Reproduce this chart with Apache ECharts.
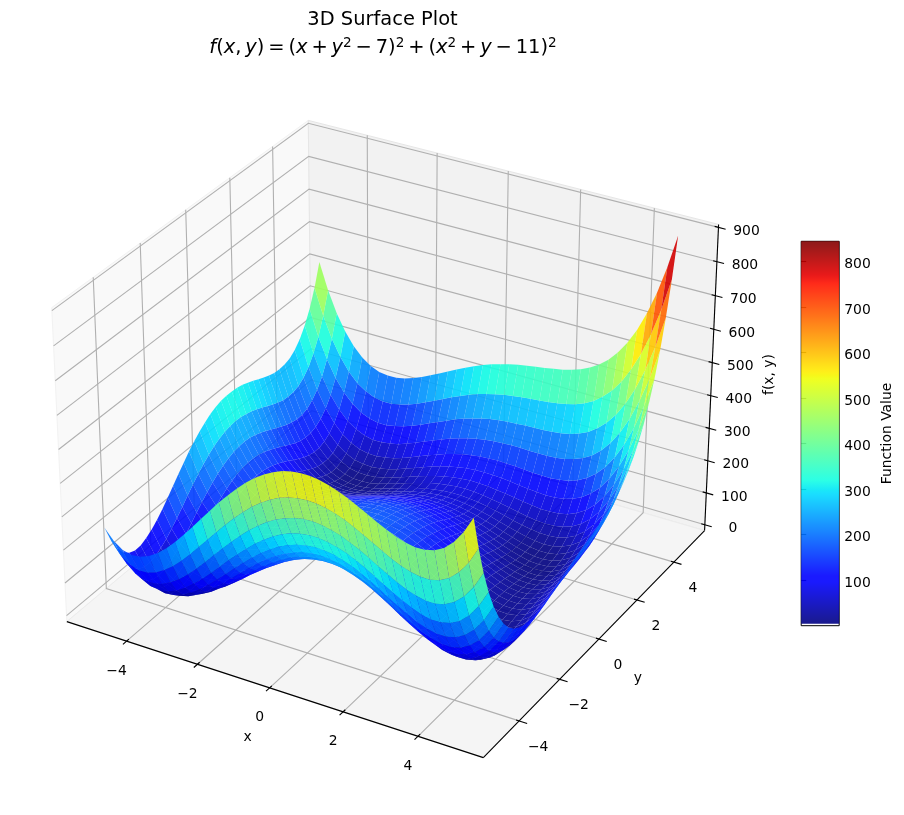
<!DOCTYPE html>
<html>
<head>
<meta charset="utf-8">
<style>html,body{margin:0;padding:0;background:#fff}#chart{width:904px;height:815px}</style>
<script src="https://cdn.jsdelivr.net/npm/echarts@6/dist/echarts.min.js"></script>
</head>
<body>
<div id="chart"></div>
<script>
// Sample positions of the surface table
const xValues = [-5,-4.75,-4.5,-4.25,-4,-3.75,-3.5,-3.25,-3,-2.75,-2.5,-2.25,-2,-1.75,-1.5,-1.25,-1,-0.75,-0.5,-0.25,0,0.25,0.5,0.75,1,1.25,1.5,1.75,2,2.25,2.5,2.75,3,3.25,3.5,3.75,4,4.25,4.5,4.75,5];
const yValues = [-5,-4.75,-4.5,-4.25,-4,-3.75,-3.5,-3.25,-3,-2.75,-2.5,-2.25,-2,-1.75,-1.5,-1.25,-1,-0.75,-0.5,-0.25,0,0.25,0.5,0.75,1,1.25,1.5,1.75,2,2.25,2.5,2.75,3,3.25,3.5,3.75,4,4.25,4.5,4.75,5];

// Surface height: one row per y value, one column per x value
const zRows = [
[250,219,200,193,196,207,224,247,274,304,335,368,400,432,461,489,514,536,554,569,580,587,590,590,586,579,569,558,544,530,515,502,490,481,476,477,484,499,524,561,610],
[197,163,143,133,134,142,158,178,203,231,261,291,322,352,380,406,430,450,467,481,490,496,498,497,492,484,474,461,447,432,417,402,390,381,376,376,383,398,423,459,509],
[158,122,99,88,86,92,106,124,147,173,201,230,259,287,314,338,360,379,395,407,416,421,422,419,413,405,393,380,365,349,334,319,306,297,291,291,298,313,338,374,423],
[132,93,68,54,51,55,66,83,104,128,154,181,209,235,260,284,304,322,337,348,355,359,359,355,349,339,327,313,297,281,265,250,237,227,221,221,228,242,267,304,353],
[116,75,48,32,26,29,38,53,72,94,119,144,170,195,219,241,260,277,290,300,306,309,308,304,296,286,273,258,242,225,209,194,180,170,164,164,170,185,210,246,296],
[109,66,37,19,11,12,19,32,50,70,93,117,141,165,187,208,226,241,253,262,268,269,268,262,254,243,230,214,198,181,164,148,134,124,118,117,124,139,164,201,251],
[110,65,34,14,4,2,8,20,35,54,76,98,121,143,164,183,200,215,226,234,238,239,236,230,221,210,196,180,163,145,128,112,98,88,82,81,88,103,128,165,215],
[118,71,37,15,3,0,4,14,28,45,65,86,108,128,148,166,182,195,205,212,216,216,213,206,196,184,170,153,136,118,101,85,71,60,54,53,60,76,101,138,189],
[130,81,45,22,8,3,5,13,26,42,60,80,100,120,138,155,170,182,191,197,200,199,195,188,178,165,150,134,116,98,80,64,50,39,33,33,40,56,81,119,170],
[146,95,58,32,17,10,11,17,29,43,60,78,97,116,133,149,163,174,182,188,189,188,183,176,165,152,137,120,102,83,66,49,35,25,19,19,26,42,68,106,158],
[165,112,73,46,29,21,20,25,34,48,63,80,98,115,132,147,159,170,177,182,183,181,176,167,156,143,127,110,92,73,56,39,25,15,9,9,17,33,60,98,150],
[186,131,90,62,43,33,31,34,43,54,69,85,101,117,133,147,159,168,175,179,179,177,171,162,151,137,121,104,86,67,49,33,19,9,3,4,12,29,56,95,148],
[208,151,109,78,58,47,43,45,52,63,76,91,106,121,136,149,160,169,175,178,178,175,169,160,148,134,118,100,82,64,46,30,16,6,1,2,10,27,55,94,148],
[230,172,128,95,74,61,56,56,62,72,84,97,112,126,140,152,163,171,176,179,178,175,168,159,147,132,116,99,80,62,44,28,15,5,1,2,11,28,57,97,151],
[251,192,146,112,89,75,68,68,72,81,92,104,118,131,144,156,165,173,178,180,179,175,168,159,146,132,116,98,80,62,44,28,15,6,2,3,13,31,60,101,156],
[272,210,163,128,103,88,80,78,82,89,99,111,123,136,148,159,168,175,179,181,180,176,168,159,146,132,116,98,80,62,45,29,17,8,4,6,16,35,65,107,163],
[290,227,178,142,116,99,90,88,90,96,105,116,128,140,151,161,170,176,180,182,180,176,168,158,146,131,115,98,80,62,45,30,18,10,6,9,20,40,70,113,170],
[306,242,192,154,127,109,99,95,97,102,110,120,131,143,153,163,171,177,180,181,180,175,168,157,145,131,115,98,80,62,46,31,19,12,9,13,24,45,76,120,178],
[320,255,203,164,136,117,106,101,101,106,113,122,133,143,154,163,170,176,179,180,178,173,166,156,143,129,113,96,79,62,46,32,20,13,11,16,28,49,82,126,185],
[332,265,212,172,142,122,110,104,104,107,114,123,133,143,152,161,168,173,176,177,175,170,162,153,140,126,111,94,77,60,45,31,21,14,13,18,31,54,87,133,193],
[340,272,218,176,146,125,112,105,104,107,113,121,130,140,149,157,164,169,172,172,170,165,158,148,136,122,107,91,74,58,43,30,20,14,14,20,34,57,92,139,200],
[346,276,221,179,147,125,111,104,102,104,109,117,126,135,144,151,158,163,166,166,164,159,152,142,130,117,102,86,70,54,40,28,19,14,14,21,36,61,96,144,207],
[348,278,222,178,146,123,108,100,97,99,104,111,119,128,136,144,150,155,158,158,156,151,144,135,123,110,96,80,65,50,36,25,16,12,14,22,38,63,100,150,213],
[348,277,220,175,142,118,103,94,91,92,96,102,110,119,127,135,141,145,148,149,147,142,135,126,115,102,88,74,59,44,32,21,13,10,13,22,39,66,104,154,220],
[346,273,215,170,136,112,95,86,82,82,86,92,100,108,116,124,130,135,137,138,136,132,125,117,106,94,80,66,52,38,26,16,10,8,11,22,40,68,107,159,226],
[342,268,209,163,128,103,86,76,72,72,75,81,88,96,104,112,118,123,126,126,125,121,115,106,96,85,72,58,45,32,21,12,7,6,10,21,41,71,111,165,233],
[335,261,201,154,119,93,76,65,60,60,63,69,76,84,92,99,105,110,113,114,113,109,104,96,86,75,63,50,38,26,16,8,3,3,9,22,43,74,116,171,240],
[328,253,192,145,109,82,64,53,48,48,50,56,63,71,79,86,93,98,101,102,101,98,93,86,77,66,55,43,31,20,11,4,1,2,9,23,46,78,121,178,249],
[320,244,183,135,98,71,53,41,36,35,38,43,50,58,66,73,80,85,89,90,90,87,83,76,68,58,48,37,26,16,8,2,0,2,11,26,50,84,129,187,260],
[312,235,174,125,88,61,42,30,25,23,26,31,38,46,54,62,69,74,78,80,80,78,74,68,61,52,42,32,23,14,7,2,1,5,15,31,57,92,139,199,273],
[305,228,166,116,79,51,32,20,14,13,16,21,28,36,44,52,59,65,70,72,73,71,68,63,56,48,40,31,22,14,8,5,5,11,22,40,67,104,152,214,290],
[300,222,160,110,72,44,25,13,7,5,8,13,20,28,37,45,53,59,64,67,68,68,65,61,55,48,40,32,25,18,13,11,13,20,33,52,81,119,170,233,312],
[298,220,156,106,68,40,20,8,2,1,3,9,16,24,33,42,50,57,62,66,68,68,66,63,58,52,45,38,32,27,23,23,26,34,48,70,100,140,192,258,338],
[300,221,157,107,68,40,20,8,2,1,3,9,17,25,35,44,52,60,66,70,73,74,73,70,66,61,56,50,45,41,39,40,45,54,70,93,125,168,221,289,371],
[306,227,163,113,74,45,26,13,7,6,9,15,23,32,42,51,60,68,75,80,84,86,86,84,81,78,73,69,65,62,62,64,70,82,99,124,158,202,258,327,411],
[319,240,176,125,86,57,38,25,20,19,22,28,36,46,56,66,76,85,92,98,103,105,106,106,104,101,98,95,93,91,92,96,104,117,137,163,199,245,303,374,461],
[340,260,196,145,106,77,58,46,40,39,43,49,58,68,79,90,100,110,118,125,130,134,136,137,136,135,133,131,130,130,133,138,148,163,184,212,250,298,358,431,520],
[370,290,225,174,136,107,88,76,70,70,74,80,90,100,112,123,134,145,154,162,168,173,176,178,179,179,178,178,178,180,184,192,203,219,242,273,313,363,425,500,591],
[410,330,266,215,176,148,128,117,111,111,116,123,133,144,156,168,180,192,202,210,218,224,228,231,233,235,236,237,239,242,248,257,270,289,314,346,388,440,504,582,675],
[463,383,318,268,229,200,182,170,165,166,171,179,189,201,214,227,240,252,263,273,281,288,294,298,302,305,307,310,314,319,326,337,352,373,399,434,479,532,599,679,775],
[530,450,385,335,296,268,249,238,234,235,240,249,260,273,286,300,314,327,339,350,360,368,375,381,386,390,394,399,404,411,420,433,450,472,501,538,584,641,709,792,890]
];

// Axis ticks
const xTicks = [-4,-2,0,2,4];
const yTicks = [-4,-2,0,2,4];
const zTicks = [0,100,200,300,400,500,600,700,800,900];
const barTicks = [100,200,300,400,500,600,700,800];

// Axis extents
const xLim = [-5.715,5.715];
const yLim = [-5.715,5.715];
const zLim = [-18.54,908.54];
const barMin = 0.4, barLow = 4.5, barMax = 844;

const FONT = '"DejaVu Sans"';
const LABEL = 13.9;

// Jet colour ramp, from its piecewise-linear channel definitions
const jetR = [[0,0],[.35,0],[.66,1],[.89,1],[1,.5]];
const jetG = [[0,0],[.125,0],[.375,1],[.64,1],[.91,0],[1,0]];
const jetB = [[0,.5],[.11,1],[.34,1],[.65,0],[1,0]];
function channel(segs, t) {
  for (let k = 1; k < segs.length; k++) {
    if (t <= segs[k][0]) {
      const a = segs[k-1], b = segs[k];
      return a[1] + (b[1]-a[1]) * (t-a[0]) / (b[0]-a[0]);
    }
  }
  return segs[segs.length-1][1];
}
const jetColors = [];
for (let k = 0; k <= 128; k++) {
  const t = k/128;
  const c = [jetR,jetG,jetB].map(s => Math.round(channel(s,t)*255));
  jetColors.push('rgb(' + c.join(',') + ')');
}

// Perspective view: elevation 30 deg, azimuth -60 deg, viewed from distance 10
const halfBox = [0.5952,0.5952,0.4464];
const viewDist = 10;
const elev = 30*Math.PI/180, azim = -60*Math.PI/180;
const W = [Math.cos(elev)*Math.cos(azim), Math.cos(elev)*Math.sin(azim), Math.sin(elev)];
const U = [-Math.sin(azim), Math.cos(azim), 0];
const V = [W[1]*U[2]-W[2]*U[1], W[2]*U[0]-W[0]*U[2], W[0]*U[1]-W[1]*U[0]];
function dot(a,b){ return a[0]*b[0]+a[1]*b[1]+a[2]*b[2]; }
function norm(v,lim,h){ return ((v-lim[0])/(lim[1]-lim[0])*2-1)*h; }
function project(x,y,z) {
  const p = [norm(x,xLim,halfBox[0]), norm(y,yLim,halfBox[1]), norm(z,zLim,halfBox[2])];
  const depth = viewDist - dot(p,W);
  return [dot(p,U)/depth, dot(p,V)/depth, depth];
}

// Surface cells, farthest first so nearer ones paint over them
const cells = [];
for (let j = 0; j < yValues.length-1; j++) {
  for (let i = 0; i < xValues.length-1; i++) {
    const zs = [zRows[j][i], zRows[j][i+1], zRows[j+1][i+1], zRows[j+1][i]];
    const level = (zs[0]+zs[1]+zs[2]+zs[3])/4;
    const d = (project(xValues[i],yValues[j],zs[0])[2] + project(xValues[i+1],yValues[j],zs[1])[2] +
               project(xValues[i+1],yValues[j+1],zs[2])[2] + project(xValues[i],yValues[j+1],zs[3])[2])/4;
    cells.push({i, j, level, d});
  }
}
cells.sort((a,b) => b.d - a.d);

// Hidden axes spanning the page in view-plane units
const planeScale = 4008, planeX = 391.6, planeY = 423.7;
const planeXMin = -planeX/planeScale, planeXMax = (904-planeX)/planeScale;
const planeYMin = (planeY-815)/planeScale, planeYMax = planeY/planeScale;

function renderFrame(params, api) {
  const P = (x,y,z) => { const q = project(x,y,z); return api.coord([q[0],q[1]]); };
  const [x0,x1] = xLim, [y0,y1] = yLim, [z0,z1] = zLim;
  const kids = [];
  const pane = (pts, fill, edge) => kids.push({type:'polygon', shape:{points:pts}, style:{fill, stroke:edge, lineWidth:1}});
  pane([P(x0,y0,z0),P(x0,y1,z0),P(x0,y1,z1),P(x0,y0,z1)], '#f9f9f9', '#f2f2f2');
  pane([P(x0,y1,z0),P(x1,y1,z0),P(x1,y1,z1),P(x0,y1,z1)], '#f2f2f2', '#e6e6e6');
  pane([P(x0,y0,z0),P(x1,y0,z0),P(x1,y1,z0),P(x0,y1,z0)], '#f5f5f5', '#ececec');
  const gridLine = pts => kids.push({type:'polyline', shape:{points:pts}, style:{fill:null, stroke:'#b0b0b0', lineWidth:1.1}});
  xTicks.forEach(t => gridLine([P(t,y0,z0),P(t,y1,z0),P(t,y1,z1)]));
  yTicks.forEach(t => gridLine([P(x1,t,z0),P(x0,t,z0),P(x0,t,z1)]));
  zTicks.forEach(t => gridLine([P(x0,y0,t),P(x0,y1,t),P(x1,y1,t)]));
  const ink = pts => kids.push({type:'polyline', shape:{points:pts}, style:{fill:null, stroke:'#000', lineWidth:1.1}});
  ink([P(x0,y0,z0),P(x1,y0,z0)]);
  ink([P(x1,y0,z0),P(x1,y1,z0)]);
  ink([P(x1,y1,z0),P(x1,y1,z1)]);
  const label = (text,pt,dx,dy,rotation) => kids.push({type:'text', x:pt[0]+dx, y:pt[1]+dy, rotation:rotation||0,
    style:{text, fontSize:LABEL, fontFamily:FONT, fill:'#000', align:'center', verticalAlign:'middle'}});
  const fmt = t => String(t).replace('-','\u2212');
  xTicks.forEach(t => { ink([P(t,y0-0.16,z0),P(t,y0+0.1,z0)]); label(fmt(t),P(t,y0,z0),-10,30); });
  yTicks.forEach(t => { ink([P(x1+0.21,t,z0),P(x1-0.08,t,z0)]); label(fmt(t),P(x1,t,z0),19,26); });
  zTicks.forEach(t => { ink([P(x1+0.19,y1,t),P(x1-0.1,y1,t)]); label(fmt(t),P(x1,y1,t),28,4); });
  label('x',P(0,y0,z0),-22,50);
  label('y',P(x1,0,z0),39,39);
  label('f(x, y)',P(x1,y1,440),58,-8,Math.PI/2);
  return {type:'group', children:kids};
}

function renderCell(params, api) {
  const i = api.value(0), j = api.value(1);
  const corner = (a,b) => { const q = project(xValues[a],yValues[b],zRows[b][a]); return api.coord([q[0],q[1]]); };
  return {
    type:'polygon',
    shape:{points:[corner(i,j),corner(i+1,j),corner(i+1,j+1),corner(i,j+1)]},
    style:{fill:api.visual('color'), opacity:0.9}
  };
}

function renderBar(params, api) {
  const top = api.coord([1,api.value(2)]), bottom = api.coord([0,api.value(1)]);
  const stops = jetColors.map((color,k) => ({offset:k/(jetColors.length-1), color}));
  return {
    type:'rect',
    shape:{x:bottom[0], y:top[1], width:top[0]-bottom[0], height:bottom[1]-top[1]},
    style:{fill:new echarts.graphic.LinearGradient(0,1,0,0,stops), opacity:0.9}
  };
}

const chart = echarts.init(document.getElementById('chart'), null, {renderer:'canvas'});
const frameSeries = {type:'custom', coordinateSystem:'cartesian2d', xAxisIndex:0, yAxisIndex:0, silent:true, clip:false, z:1, renderItem:renderFrame, data:[[0,0]]};
const surfaceSeries = {type:'custom', coordinateSystem:'cartesian2d', xAxisIndex:0, yAxisIndex:0, silent:true, clip:false, z:2, progressive:0, renderItem:renderCell,
  dimensions:['col','row','level'], data:cells.map(c => [c.i,c.j,c.level])};
const barSeries = {type:'custom', coordinateSystem:'cartesian2d', xAxisIndex:1, yAxisIndex:1, silent:true, clip:false, z:3, renderItem:renderBar, data:[[0,barLow,barMax]],
  encode:{x:0,y:1}};

const titleMath = '{i|f}{r|(}{i|x}{r|,\u2009}{i|y}{r|)\u2009=\u2009(}{i|x}{r|\u2009+\u2009}{i|y}{s|2}{r|\u2009\u2212\u20097)}{s|2}{r|\u2009+\u2009(}{i|x}{s|2}{r|\u2009+\u2009}{i|y}{r|\u2009\u2212\u200911)}{s|2}';

chart.setOption({
  animation:false,
  backgroundColor:'#fff',
  title:[
    {text:'3D Surface Plot', left:382.5, top:10, padding:0, textAlign:'center',
     textStyle:{fontFamily:FONT, fontSize:19.44, fontWeight:'normal', color:'#000'}},
    {text:titleMath, left:383, top:36, padding:0, textAlign:'center',
     textStyle:{fontFamily:FONT, fontSize:19.44, fontWeight:'normal', color:'#000',
       rich:{
         i:{fontFamily:FONT, fontSize:19.44, fontStyle:'italic', color:'#000'},
         r:{fontFamily:FONT, fontSize:19.44, color:'#000'},
         s:{fontFamily:FONT, fontSize:13.6, color:'#000', verticalAlign:'bottom', padding:[0,0,9,0]}
       }}}
  ],
  grid:[
    {left:0, right:0, top:0, bottom:0, show:false},
    {left:801.2, top:241.3, width:38, height:384.4, show:true, borderColor:'#000', borderWidth:1, backgroundColor:'#fff'}
  ],
  xAxis:[
    {type:'value', gridIndex:0, min:planeXMin, max:planeXMax, show:false},
    {type:'value', gridIndex:1, min:0, max:1, show:false}
  ],
  yAxis:[
    {type:'value', gridIndex:0, min:planeYMin, max:planeYMax, show:false},
    {type:'value', gridIndex:1, position:'right', min:barMin, max:barMax,
     name:'Function Value', nameLocation:'middle', nameGap:41, nameRotate:90,
     nameTextStyle:{fontFamily:FONT, fontSize:LABEL, color:'#000'},
     axisLine:{show:false},
     axisTick:{show:true, length:5, lineStyle:{color:'#000', width:1.1}, customValues:barTicks},
     axisLabel:{show:true, fontFamily:FONT, fontSize:LABEL, color:'#000', margin:5, verticalAlign:'top', lineHeight:6, customValues:barTicks},
     splitLine:{show:false}}
  ],
  visualMap:{type:'continuous', show:false, dimension:2, seriesIndex:1, min:barLow, max:barMax, inRange:{color:jetColors}},
  series:[frameSeries, surfaceSeries, barSeries]
});
</script>
</body>
</html>
